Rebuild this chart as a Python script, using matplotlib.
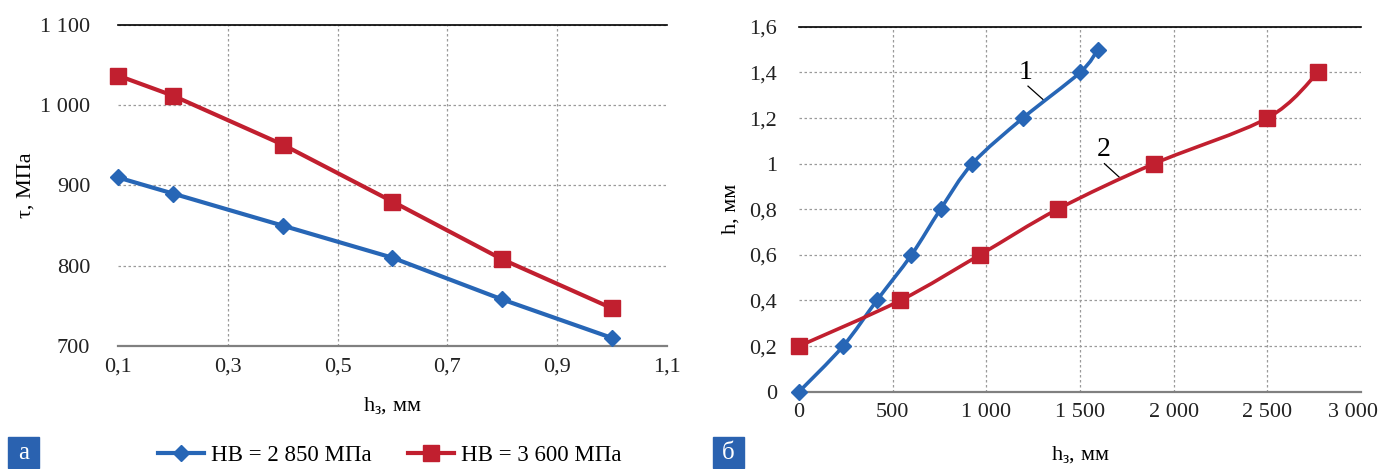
import matplotlib
matplotlib.use("Agg")
import matplotlib.pyplot as plt
from matplotlib.path import Path
from matplotlib.patches import PathPatch, Rectangle
from matplotlib.lines import Line2D
from matplotlib.ticker import FuncFormatter
from matplotlib.transforms import ScaledTranslation

plt.rcParams['font.family'] = ['Liberation Serif', 'DejaVu Serif']
plt.rcParams['mathtext.fontset'] = 'custom'
plt.rcParams['mathtext.rm'] = 'Liberation Serif'
plt.rcParams['mathtext.it'] = 'Liberation Serif'

BLUE = '#2766b6'
RED = '#c11f2f'
BOX = '#2a62b0'

# panel a: shear stress vs wear land
x_a = [0.1, 0.2, 0.4, 0.6, 0.8, 1.0]
tau_hb2850 = [910, 890, 850, 810, 758, 710]
tau_hb3600 = [1037, 1012, 951, 880, 808, 747]
legend_labels = ['НВ = 2 850 МПа', 'НВ = 3 600 МПа']

# panel б: wear depth vs wear land
hz_1 = [0, 235, 415, 600, 755, 925, 1195, 1500, 1595]
h_1 = [0, 0.2, 0.4, 0.6, 0.8, 1.0, 1.2, 1.4, 1.5]
hz_2 = [0, 540, 965, 1380, 1895, 2500, 2770]
h_2 = [0.2, 0.4, 0.6, 0.8, 1.0, 1.2, 1.4]


def fmt_num(v, pos=None):
    s = ('%.1f' % v).rstrip('0').rstrip('.') if abs(v - round(v)) > 1e-9 else '%d' % round(v)
    if '.' in s:
        return s.replace('.', ',')
    n = int(s)
    if n >= 1000:
        return '%d %03d' % (n // 1000, n % 1000)
    return str(n)


def smooth_line(ax, xs, ys, color, lw=2.6):
    # Catmull-Rom style smoothing drawn as cubic Bezier segments
    verts = [(xs[0], ys[0])]
    codes = [Path.MOVETO]
    n = len(xs)
    for i in range(n - 1):
        x0, y0 = (xs[i - 1], ys[i - 1]) if i > 0 else (xs[i], ys[i])
        x1, y1 = xs[i], ys[i]
        x2, y2 = xs[i + 1], ys[i + 1]
        x3, y3 = (xs[i + 2], ys[i + 2]) if i + 2 < n else (x2, y2)
        c1 = (x1 + (x2 - x0) / 6.0, y1 + (y2 - y0) / 6.0)
        c2 = (x2 - (x3 - x1) / 6.0, y2 - (y3 - y1) / 6.0)
        verts += [c1, c2, (x2, y2)]
        codes += [Path.CURVE4] * 3
    ax.add_patch(PathPatch(Path(verts, codes), fill=False, edgecolor=color,
                           lw=lw, capstyle='round', joinstyle='round', zorder=3))


def style_axes(ax, ypad):
    for s in ['left', 'right']:
        ax.spines[s].set_visible(False)
    ax.spines['top'].set_color('black')
    ax.spines['top'].set_linewidth(1.2)
    ax.spines['bottom'].set_color('#808080')
    ax.spines['bottom'].set_linewidth(1.6)
    ax.grid(True, color='#9a9a9a', linestyle=(0, (2, 2)), linewidth=0.9)
    ax.set_axisbelow(True)
    ax.tick_params(length=0, labelsize=16, colors='#222222')
    ax.tick_params(axis='x', pad=8)
    ax.tick_params(axis='y', pad=ypad)
    ax.xaxis.set_major_formatter(FuncFormatter(fmt_num))
    ax.yaxis.set_major_formatter(FuncFormatter(fmt_num))


def hide_edge_grid(ax):
    # no vertical gridlines on the left/right edges of the plot area
    xg = ax.xaxis.get_gridlines()
    xg[0].set_visible(False)
    xg[-1].set_visible(False)


fig = plt.figure(figsize=(13.81, 4.69), dpi=100)

# ---- panel a ----
ax1 = fig.add_axes([0.0854, 0.2623, 0.3975, 0.6844])
style_axes(ax1, 20)
ax1.plot(x_a, tau_hb2850, color=BLUE, lw=3, marker='D', ms=8, zorder=3, clip_on=False)
ax1.plot(x_a, tau_hb3600, color=RED, lw=3, marker='s', ms=11, zorder=3, clip_on=False)
ax1.set_xlim(0.1, 1.1)
ax1.set_ylim(700, 1100)
ax1.set_xticks([0.1, 0.3, 0.5, 0.7, 0.9, 1.1])
ax1.set_yticks([700, 800, 900, 1000, 1100])
ax1.set_ylabel('τ, МПа', fontsize=16, labelpad=3)
ax1.set_xlabel('h$_{\\mathrm{з}}$, мм', fontsize=16, labelpad=14)
hide_edge_grid(ax1)

handles = [Line2D([], [], color=BLUE, lw=3, marker='D', ms=8),
           Line2D([], [], color=RED, lw=3, marker='s', ms=11)]
fig.legend(handles, legend_labels, loc='center', bbox_to_anchor=(0.282, 0.028),
           ncol=2, frameon=False, fontsize=16.5, handlelength=2.0,
           handletextpad=0.3, columnspacing=1.6)

# ---- panel б ----
ax2 = fig.add_axes([0.5786, 0.1648, 0.407, 0.778])
style_axes(ax2, 16)
smooth_line(ax2, hz_1, h_1, BLUE)
smooth_line(ax2, hz_2, h_2, RED)
ax2.plot(hz_1, h_1, ls='none', color=BLUE, marker='D', ms=8, zorder=4, clip_on=False)
ax2.plot(hz_2, h_2, ls='none', color=RED, marker='s', ms=11, zorder=4, clip_on=False)
ax2.set_xlim(0, 3000)
ax2.set_ylim(0, 1.6)
ax2.set_xticks(range(0, 3001, 500))
ax2.set_yticks([0, 0.2, 0.4, 0.6, 0.8, 1.0, 1.2, 1.4, 1.6])
ax2.set_ylabel('h, мм', fontsize=16, labelpad=6)
ax2.set_xlabel('h$_{\\mathrm{з}}$, мм', fontsize=16, labelpad=16)
hide_edge_grid(ax2)

# keep the last x tick label inside the figure
last = ax2.get_xticklabels()[-1]
last.set_transform(last.get_transform() + ScaledTranslation(-6 / 72, 0, fig.dpi_scale_trans))

# curve numbers with leader lines
ax2.text(1208, 1.40, '1', fontsize=20, ha='center', va='center')
ax2.plot([1222, 1304], [1.34, 1.28], color='black', lw=0.9, zorder=2)
ax2.text(1627, 1.06, '2', fontsize=20, ha='center', va='center')
ax2.plot([1630, 1710], [1.00, 0.94], color='black', lw=0.9, zorder=2)

# panel letters
for x0, letter in [(8, 'а'), (713, 'б')]:
    fig.patches.append(Rectangle((x0 / 1381, 1 / 469), 31 / 1381, 31 / 469,
                                 transform=fig.transFigure, color=BOX, zorder=5))
    fig.text((x0 + 15.5) / 1381, 16.5 / 469, letter, color='white', fontsize=18,
             ha='center', va='center', zorder=6)

fig.savefig('out.png', dpi=100)
